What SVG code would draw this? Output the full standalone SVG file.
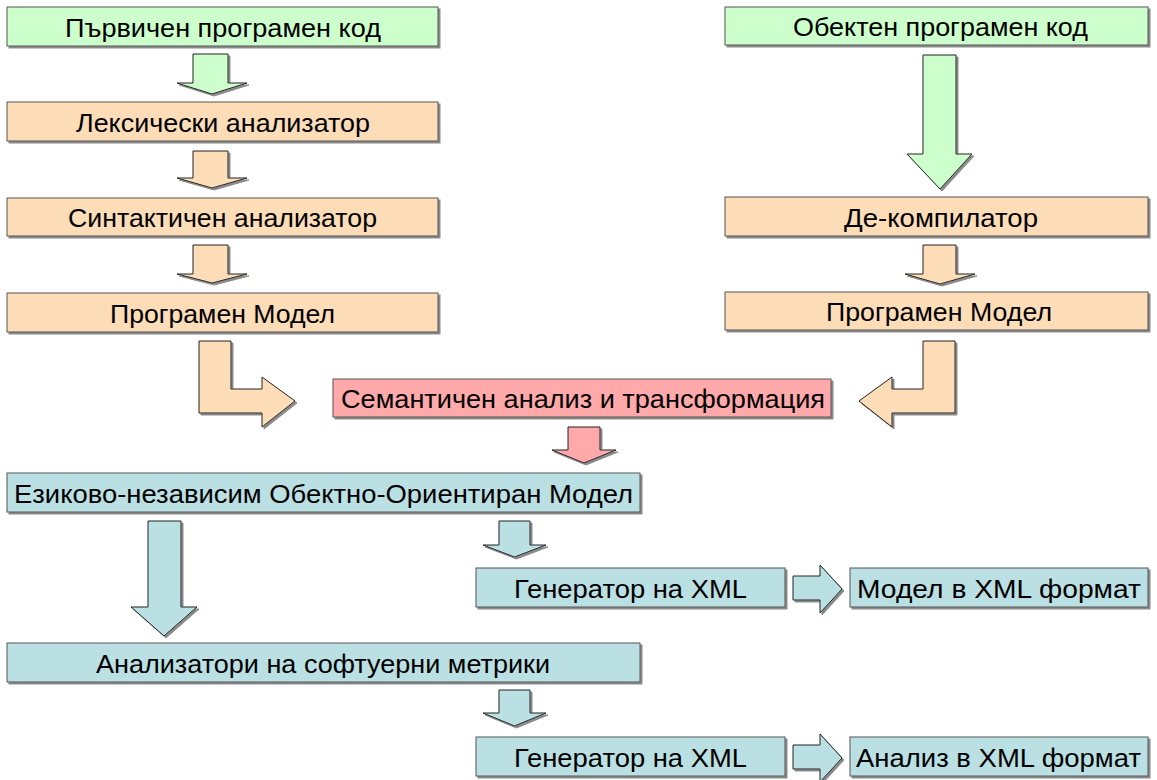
<svg xmlns="http://www.w3.org/2000/svg" width="1157" height="780" viewBox="0 0 1157 780">
<style>
  .box { stroke: #555; stroke-width: 1; filter: url(#sh); }
  .arr { stroke: #222; stroke-width: 1; stroke-linejoin: miter; filter: url(#sh); }
  .g { fill: #CCFFCC; }
  .o { fill: #FDDCB8; }
  .p { fill: #FFA9AA; }
  .t { fill: #BBE0E3; }
  text { font-family: "Liberation Sans", Arial, sans-serif; font-size: 25px; fill: #000; text-anchor: middle; }
</style>
<defs>
  <filter id="sh" x="-5%" y="-5%" width="115%" height="125%">
    <feDropShadow dx="2" dy="2" stdDeviation="0" flood-color="#8a8a8a" flood-opacity="1"/>
  </filter>
</defs>
<g id="connectors">
  <polygon class="arr g" points="193,54 228,54 228,83 247,83 212,94 177,83 193,83"/>
  <polygon class="arr o" points="193,151 228,151 228,178 247,178 212,188 177,178 193,178"/>
  <polygon class="arr o" points="193,245 228,245 228,274 247,274 212,283 177,274 193,274"/>
  <polygon class="arr g" points="923,55 956,55 956,154 972,154 940,189 907,154 923,154"/>
  <polygon class="arr o" points="923,245 956,245 956,274 975,274 940,284 905,274 923,274"/>
  <polygon class="arr o" points="199,341 231,341 231,389 262,389 262,377 295,401 262,427 262,413 199,413"/>
  <polygon class="arr o" points="923,341 955,341 955,413 892,413 892,427 859,401 892,377 892,389 923,389"/>
  <polygon class="arr p" points="568,427 600,427 600,450 616,450 584,463 552,450 568,450"/>
  <polygon class="arr t" points="148,521 181,521 181,607 197,607 164,636 131,607 148,607"/>
  <polygon class="arr t" points="499,521 530,521 530,545 546,545 514.5,557 483,545 499,545"/>
  <polygon class="arr t" points="499,690 530,690 530,713 546,713 514.5,726 483,713 499,713"/>
  <polygon class="arr t" points="793,576 820,576 820,565 842,589 820,613 820,600 793,600"/>
  <polygon class="arr t" points="793,745 820,745 820,734 842,758 820,782 820,769 793,769"/>
</g>
<g id="n1"><rect class="box g" x="7" y="7" width="431" height="39"/><text x="223" y="36.5" textLength="316" lengthAdjust="spacingAndGlyphs">Първичен програмен код</text></g>
<g id="n2"><rect class="box o" x="7" y="102" width="431" height="39"/><text x="223" y="131.5" textLength="294" lengthAdjust="spacingAndGlyphs">Лексически анализатор</text></g>
<g id="n3"><rect class="box o" x="7" y="198" width="431" height="38"/><text x="222.5" y="227" textLength="309" lengthAdjust="spacingAndGlyphs">Синтактичен анализатор</text></g>
<g id="n4"><rect class="box o" x="7" y="293" width="431" height="39"/><text x="222.5" y="322.5" textLength="225" lengthAdjust="spacingAndGlyphs">Програмен Модел</text></g>
<g id="n5"><rect class="box g" x="725" y="7" width="423" height="38"/><text x="940.5" y="36" textLength="295" lengthAdjust="spacingAndGlyphs">Обектен програмен код</text></g>
<g id="n6"><rect class="box o" x="725" y="197" width="423" height="39"/><text x="941" y="226.5" textLength="194" lengthAdjust="spacingAndGlyphs">Де-компилатор</text></g>
<g id="n7"><rect class="box o" x="725" y="292" width="423" height="38"/><text x="939" y="321" textLength="226" lengthAdjust="spacingAndGlyphs">Програмен Модел</text></g>
<g id="n8"><rect class="box p" x="333" y="379" width="498" height="38"/><text x="583" y="408" textLength="484" lengthAdjust="spacingAndGlyphs">Семантичен анализ и трансформация</text></g>
<g id="n9"><rect class="box t" x="7" y="473" width="633" height="39"/><text x="323.5" y="502.5" textLength="619" lengthAdjust="spacingAndGlyphs">Езиково-независим Обектно-Ориентиран Модел</text></g>
<g id="n10"><rect class="box t" x="476" y="568" width="309" height="39"/><text x="630.5" y="597.5" textLength="233" lengthAdjust="spacingAndGlyphs">Генератор на XML</text></g>
<g id="n11"><rect class="box t" x="850" y="568" width="298" height="39"/><text x="999" y="597.5" textLength="284" lengthAdjust="spacingAndGlyphs">Модел в XML формат</text></g>
<g id="n12"><rect class="box t" x="7" y="643" width="633" height="39"/><text x="323" y="672.5" textLength="454" lengthAdjust="spacingAndGlyphs">Анализатори на софтуерни метрики</text></g>
<g id="n13"><rect class="box t" x="476" y="737" width="309" height="39"/><text x="630.5" y="766.5" textLength="233" lengthAdjust="spacingAndGlyphs">Генератор на XML</text></g>
<g id="n14"><rect class="box t" x="850" y="737" width="298" height="39"/><text x="998.5" y="766.5" textLength="285" lengthAdjust="spacingAndGlyphs">Анализ в XML формат</text></g>
</svg>
